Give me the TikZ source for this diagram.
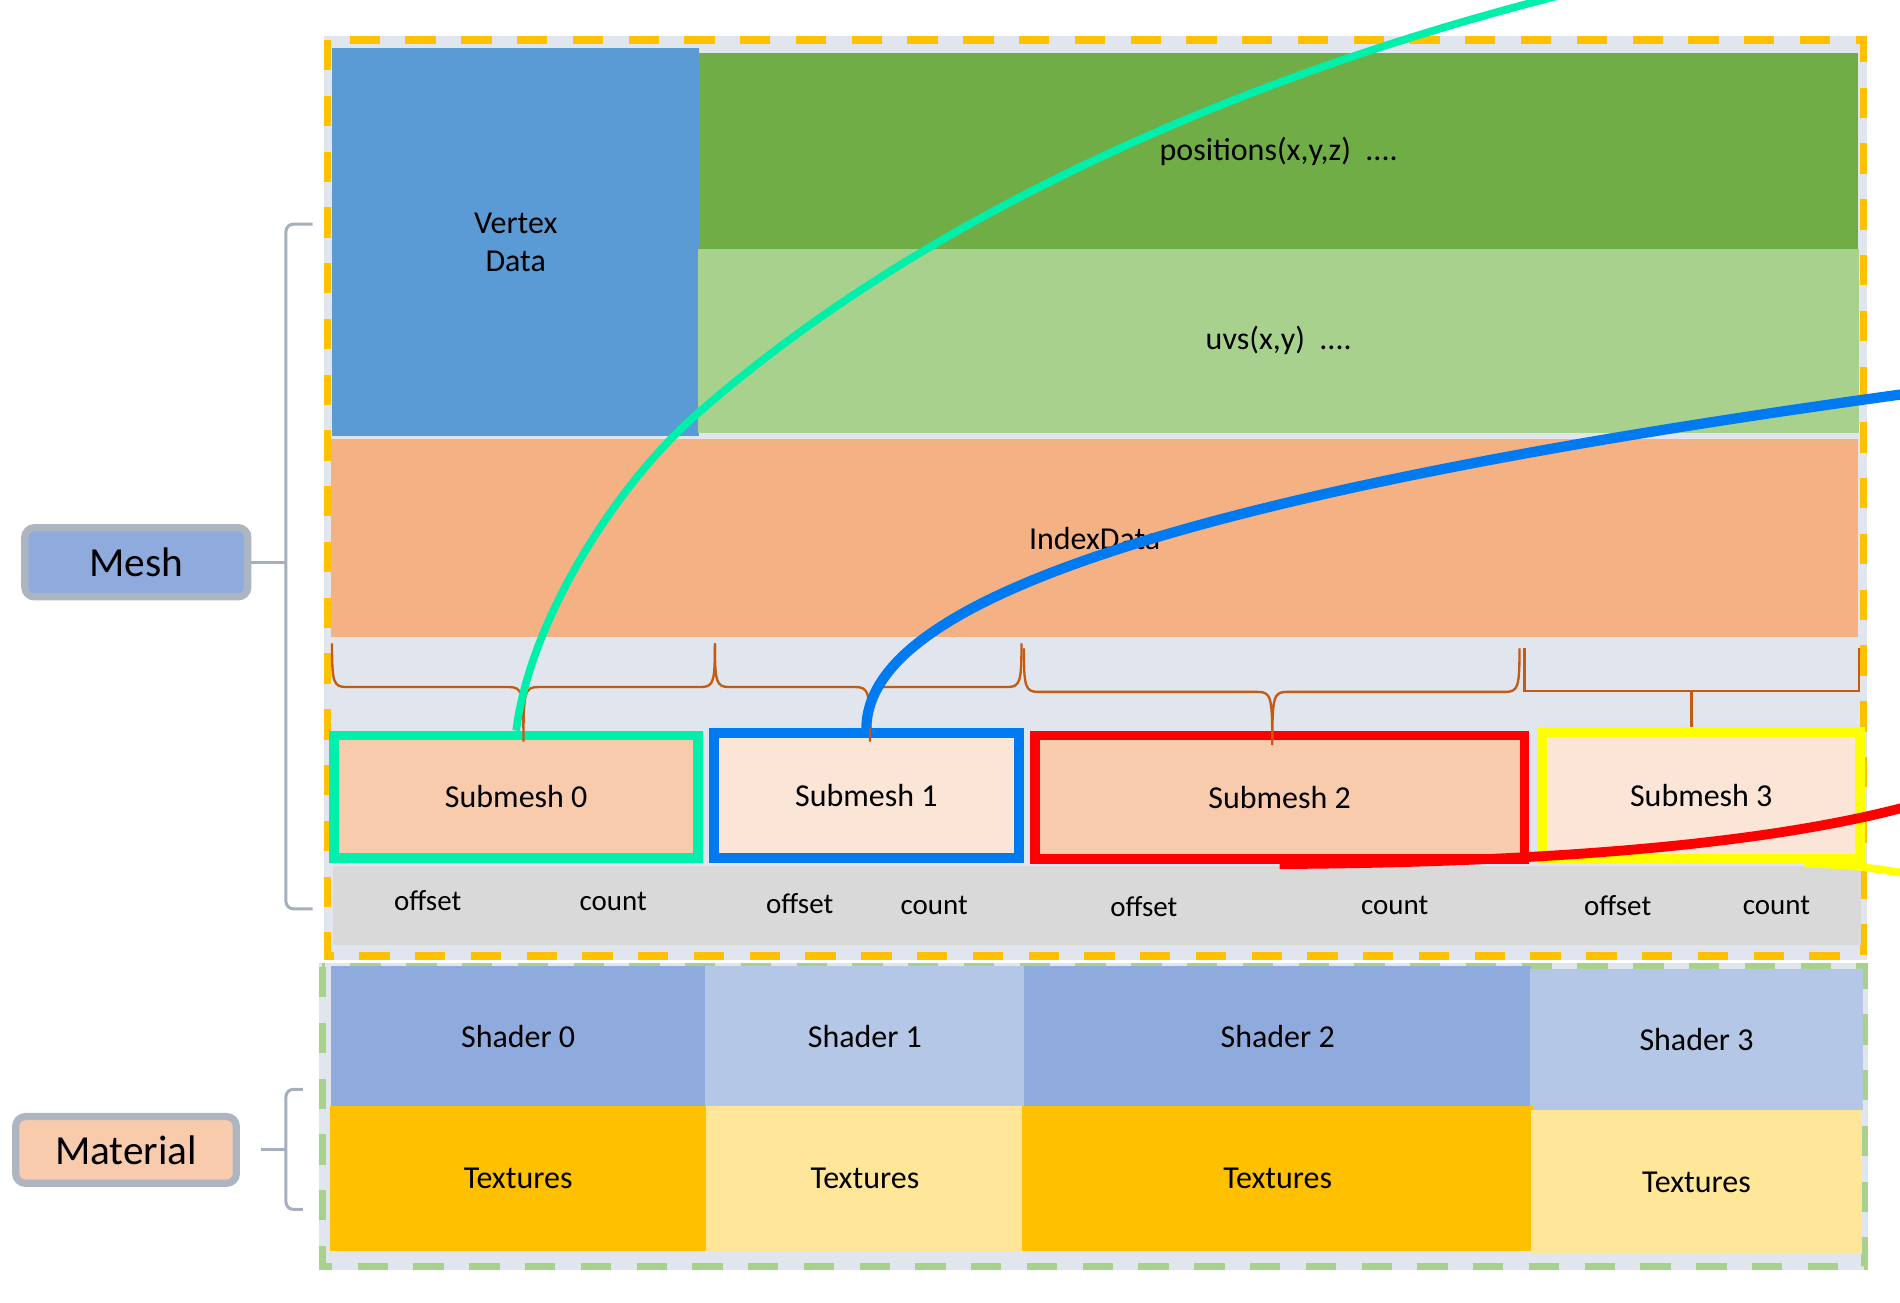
\documentclass[tikz,border=0pt]{standalone}
\usepackage{fontspec}
\setmainfont{Carlito}
\usepackage{tikz}
\usetikzlibrary{positioning}

% Colours
\definecolor{FrameOrange}{HTML}{FFC000}
\definecolor{FrameGreen}{HTML}{A9D18E}
\definecolor{PanelGray}{HTML}{E1E6EE}
\definecolor{VertexBlue}{HTML}{5B9BD5}
\definecolor{PosGreen}{HTML}{70AD47}
\definecolor{UvGreen}{HTML}{A9D18E}
\definecolor{IndexOrange}{HTML}{F4B183}
\definecolor{SubDark}{HTML}{F8CBAD}
\definecolor{SubLight}{HTML}{FBE5D6}
\definecolor{CountGray}{HTML}{D9D9D9}
\definecolor{ShaderDark}{HTML}{8FAADC}
\definecolor{ShaderLight}{HTML}{B4C7E7}
\definecolor{TexDark}{HTML}{FFC000}
\definecolor{TexLight}{HTML}{FFE699}
\definecolor{BraceBrown}{HTML}{C55A11}
\definecolor{BracketGray}{HTML}{A6AEBC}
\definecolor{TagBorder}{HTML}{ADB5C0}
\definecolor{LinkGreen}{HTML}{00EFAB}
\definecolor{LinkBlue}{HTML}{007AF0}
\definecolor{LinkRed}{HTML}{FF0000}
\definecolor{LinkYellow}{HTML}{FFFF00}

\newcommand{\cellfont}{\fontsize{7.5}{9}\selectfont}
\newcommand{\notefont}{\fontsize{6.8}{8}\selectfont}
\newcommand{\tagfont}{\fontsize{9.7}{11}\selectfont}

\tikzset{
	block/.style     = {inner sep=0pt, outer sep=0pt, font=\cellfont},
	submesh/.style   = {inner sep=0pt, line width=2.3pt, font=\cellfont},
	note/.style      = {inner sep=1pt, font=\notefont},
	tagbox/.style    = {draw=TagBorder, line width=1.7pt, rounded corners=0.08cm, inner sep=0pt, font=\tagfont},
	framefill/.style = {fill=PanelGray, draw=PanelGray, line width=1.7pt},
	meshframe/.style = {draw=FrameOrange, line width=1.7pt, dash pattern=on 0.25cm off 0.21cm},
	matframe/.style  = {draw=FrameGreen, line width=1.7pt, dash pattern=on 0.25cm off 0.21cm},
	bracestyle/.style= {draw=BraceBrown, line width=0.55pt},
	bracket/.style   = {draw=BracketGray, line width=0.7pt},
	link/.style      = {line cap=butt},
}

% curly brace: left x, right x, tip x, top y, middle y, tip y
\newcommand{\drawbrace}[6]{%
	\draw[bracestyle] (#1,#4) .. controls (#1,{#5-4}) and ({#1+1},#5) .. ({#1+12},#5)
		-- ({#3-12},#5) .. controls ({#3-1},#5) and (#3,{#5+4}) .. (#3,#6)
		.. controls (#3,{#5+4}) and ({#3+1},#5) .. ({#3+12},#5)
		-- ({#2-12},#5) .. controls ({#2-1},#5) and (#2,{#5-4}) .. (#2,#4);
}

\begin{document}
\begin{tikzpicture}[x=0.01cm, y=-0.01cm]

	% ------------------------------------------------
	% Size of the picture
	\useasboundingbox (0,0) rectangle (1568,1075);
	\clip (0,0) rectangle (1568,1075);

	% ------------------------------------------------
	% Dashed frames
	\path[framefill] (270,33) rectangle (1538,789);
	\draw[meshframe] (270,33) rectangle (1538,789);
	\path[framefill] (266,798) rectangle (1539,1045);
	\draw[matframe]  (266,798) rectangle (1539,1045);

	% ------------------------------------------------
	% Vertex and index data
	\node[block, fill=VertexBlue, anchor=north west, minimum width=3.03cm, minimum height=3.20cm, align=center] (VertexData) at (274,40) {Vertex\\Data};
	\node[block, fill=PosGreen, anchor=north west, minimum width=9.56cm, minimum height=1.61cm] (Positions) at (577,44) {positions(x,y,z)\ \ ....};
	\node[block, fill=UvGreen, minimum width=9.58cm, minimum height=1.52cm, below=0pt of Positions] (Uvs) {uvs(x,y)\ \ ....};
	\node[block, fill=IndexOrange, anchor=north west, minimum width=12.60cm, minimum height=1.64cm] (IndexData) at (273,362) {IndexData};

	% Offset / count band
	\node[block, fill=CountGray, anchor=north west, minimum width=12.60cm, minimum height=0.65cm] (CountBand) at (275,715) {};

	% ------------------------------------------------
	% Submeshes
	\node[submesh, draw=LinkGreen,  fill=SubDark,  minimum width=3.00cm, minimum height=1.01cm] (Sub0) at (426,657.5) {Submesh 0};
	\node[submesh, draw=LinkBlue,   fill=SubLight, minimum width=2.52cm, minimum height=1.03cm] (Sub1) at (715,656.5) {Submesh 1};
	\node[submesh, draw=LinkRed,    fill=SubDark,  minimum width=4.04cm, minimum height=1.02cm] (Sub2) at (1056,658) {Submesh 2};
	\node[submesh, draw=LinkYellow, fill=SubLight, minimum width=2.62cm, minimum height=1.05cm] (Sub3) at (1404,656.5) {Submesh 3};

	\node[note] (Off0) at (353,743)  {offset};
	\node[note] (Cnt0) at (506,744)  {count};
	\node[note] (Off1) at (660,746)  {offset};
	\node[note] (Cnt1) at (771,747)  {count};
	\node[note] (Off2) at (944,748)  {offset};
	\node[note] (Cnt2) at (1151,747) {count};
	\node[note] (Off3) at (1335,747) {offset};
	\node[note] (Cnt3) at (1466,747) {count};

	% Braces over the index data
	\drawbrace{274}{590}{432}{531}{567}{612}
	\drawbrace{590}{843}{718}{531}{567}{612}
	\drawbrace{845}{1254}{1050}{535}{571}{615}
	\draw[bracestyle] (1258,535) |- (1534,570) -- (1534,535);
	\draw[bracestyle] (1396,570) -- (1396,600);

	% ------------------------------------------------
	% Material
	\node[block, fill=ShaderDark,  anchor=north west, minimum width=3.09cm, minimum height=1.16cm] (Shader0) at (273,797) {Shader 0};
	\node[block, fill=ShaderLight, minimum width=2.63cm, minimum height=1.16cm, right=0pt of Shader0] (Shader1) {Shader 1};
	\node[block, fill=ShaderDark,  minimum width=4.18cm, minimum height=1.16cm, right=0pt of Shader1] (Shader2) {Shader 2};
	\node[block, fill=ShaderLight, anchor=north west, minimum width=2.74cm, minimum height=1.16cm] (Shader3) at (1263,800) {Shader 3};

	\node[block, fill=TexDark,  minimum width=3.10cm, minimum height=1.19cm, below=0pt of Shader0] (Tex0) {Textures};
	\node[block, fill=TexLight, minimum width=2.62cm, minimum height=1.19cm, below=0pt of Shader1] (Tex1) {Textures};
	\node[block, fill=TexDark,  minimum width=4.21cm, minimum height=1.19cm, below=0pt of Shader2] (Tex2) {Textures};
	\node[block, fill=TexLight, minimum width=2.73cm, minimum height=1.19cm, below=0pt of Shader3] (Tex3) {Textures};

	% ------------------------------------------------
	% Tags and brackets
	\node[tagbox, fill=ShaderDark, minimum width=1.84cm, minimum height=0.57cm] (MeshTag) at (112.5,464) {Mesh};
	\node[tagbox, fill=SubDark, minimum width=1.82cm, minimum height=0.55cm] (MaterialTag) at (104,949) {Material};

	\draw[bracket, rounded corners=0.06cm] (258,185) -- (236,185) -- (236,750) -- (258,750);
	\draw[bracket] (MeshTag.east) -- (236,464);
	\draw[bracket, rounded corners=0.06cm] (250,899) -- (236,899) -- (236,998) -- (250,998);
	\draw[bracket] ([xshift=0.17cm]MaterialTag.east) -- (236,949);

	% ------------------------------------------------
	% Links leaving the picture
	\coordinate (GreenMid)  at (576,341);
	\coordinate (GreenEnd)  at (1300,-7);
	\coordinate (BlueEnd)   at (1580,324);
	\coordinate (YellowEnd) at (1580,722);
	\coordinate (RedEnd)    at (1580,664);

	\draw[link, draw=LinkGreen, line width=1.8pt] (Sub0.north) .. controls (437,513) and (508,400) .. (GreenMid)
		.. controls (764,176) and (1030,60) .. (GreenEnd);
	\draw[link, draw=LinkBlue, line width=2.4pt] (Sub1.north) .. controls (716,500) and (950,410) .. (BlueEnd);
	\draw[link, draw=LinkYellow, line width=1.8pt] ([xshift=-0.5cm]Sub3.south east) .. controls (1520,713) and (1545,716) .. (YellowEnd);
	\draw[link, draw=LinkRed, line width=2.3pt] (Sub2.south) .. controls (1250,712) and (1450,700) .. (RedEnd);

\end{tikzpicture}
\end{document}
